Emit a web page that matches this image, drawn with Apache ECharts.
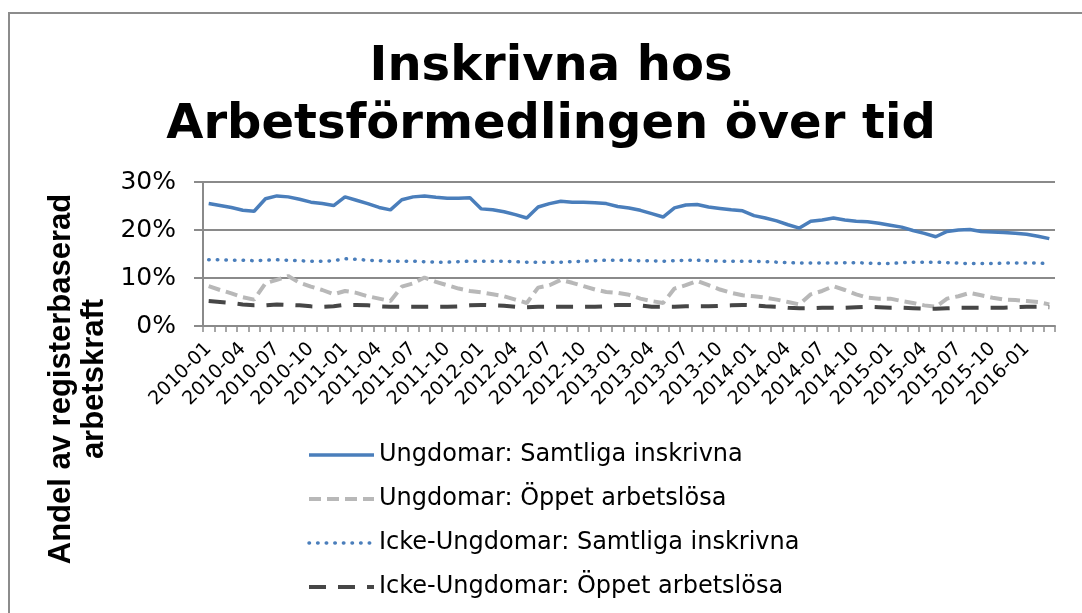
<!DOCTYPE html>
<html>
<head>
<meta charset="utf-8">
<script src="https://cdn.jsdelivr.net/npm/echarts@6/dist/echarts.min.js"></script>
<style>
  html, body { margin: 0; padding: 0; background: #fff; }
  #main { width: 1082px; height: 613px; }
</style>
</head>
<body>
<div id="main"></div>
<script>
// month categories 2010-01 .. 2016-03
var months = [
    '2010-01','2010-02','2010-03','2010-04','2010-05','2010-06','2010-07','2010-08','2010-09','2010-10','2010-11','2010-12',
    '2011-01','2011-02','2011-03','2011-04','2011-05','2011-06','2011-07','2011-08','2011-09','2011-10','2011-11','2011-12',
    '2012-01','2012-02','2012-03','2012-04','2012-05','2012-06','2012-07','2012-08','2012-09','2012-10','2012-11','2012-12',
    '2013-01','2013-02','2013-03','2013-04','2013-05','2013-06','2013-07','2013-08','2013-09','2013-10','2013-11','2013-12',
    '2014-01','2014-02','2014-03','2014-04','2014-05','2014-06','2014-07','2014-08','2014-09','2014-10','2014-11','2014-12',
    '2015-01','2015-02','2015-03','2015-04','2015-05','2015-06','2015-07','2015-08','2015-09','2015-10','2015-11','2015-12',
    '2016-01','2016-02','2016-03'
];

var seriesNames = [
    'Ungdomar: Samtliga inskrivna',
    'Ungdomar: Öppet arbetslösa',
    'Icke-Ungdomar: Samtliga inskrivna',
    'Icke-Ungdomar: Öppet arbetslösa'
];

// percent of registered labour force
var ungdomSamtliga = [
    25.5, 25.1, 24.7, 24.1, 23.9, 26.5, 27.1, 26.9, 26.4, 25.8, 25.5, 25.1,
    26.9, 26.2, 25.5, 24.7, 24.2, 26.3, 26.9, 27.1, 26.8, 26.6, 26.6, 26.7,
    24.4, 24.2, 23.8, 23.2, 22.5, 24.8, 25.5, 26.0, 25.8, 25.8, 25.7, 25.5,
    24.9, 24.6, 24.1, 23.4, 22.7, 24.6, 25.2, 25.3, 24.8, 24.5, 24.2, 24.0,
    23.0, 22.5, 21.9, 21.1, 20.4, 21.8, 22.1, 22.5, 22.1, 21.8, 21.7, 21.4,
    21.0, 20.6, 19.9, 19.3, 18.6, 19.7, 20.0, 20.1, 19.7, 19.6, 19.5, 19.3,
    19.1, 18.7, 18.2
];
var ungdomOppet = [
    8.3, 7.5, 6.8, 6.0, 5.5, 8.9, 9.6, 10.4, 9.0, 8.2, 7.5, 6.6,
    7.3, 6.9, 6.2, 5.7, 5.2, 8.2, 8.9, 10.1, 9.2, 8.5, 7.8, 7.3,
    7.0, 6.6, 6.2, 5.5, 4.8, 8.0, 8.5, 9.6, 9.0, 8.3, 7.6, 7.1,
    6.9, 6.5, 5.7, 5.2, 4.8, 7.8, 8.5, 9.4, 8.5, 7.6, 6.9, 6.4,
    6.2, 5.9, 5.5, 5.0, 4.5, 6.6, 7.3, 8.3, 7.5, 6.6, 5.9, 5.7,
    5.7, 5.2, 4.8, 4.3, 4.0, 5.7, 6.2, 6.9, 6.4, 5.9, 5.5, 5.4,
    5.2, 5.0, 4.5
];
var ickeSamtliga = [
    13.8, 13.8, 13.7, 13.7, 13.6, 13.7, 13.8, 13.7, 13.6, 13.5, 13.5, 13.6,
    14.0, 13.9, 13.7, 13.6, 13.5, 13.5, 13.5, 13.4, 13.3, 13.3, 13.4, 13.5,
    13.5, 13.5, 13.5, 13.4, 13.3, 13.3, 13.3, 13.3, 13.4, 13.5, 13.6, 13.7,
    13.7, 13.7, 13.6, 13.6, 13.5, 13.6, 13.7, 13.7, 13.6, 13.5, 13.5, 13.5,
    13.5, 13.4, 13.3, 13.2, 13.1, 13.1, 13.1, 13.1, 13.2, 13.2, 13.1, 13.0,
    13.0, 13.2, 13.3, 13.3, 13.3, 13.2, 13.1, 13.0, 13.0, 13.0, 13.1, 13.1,
    13.1, 13.1, 13.0
];
var ickeOppet = [
    5.2, 5.0, 4.8, 4.5, 4.3, 4.3, 4.5, 4.4, 4.3, 4.1, 4.0, 4.1,
    4.4, 4.4, 4.3, 4.1, 4.0, 4.0, 4.0, 4.0, 4.0, 4.0, 4.1, 4.3,
    4.4, 4.3, 4.2, 4.0, 3.9, 4.0, 4.0, 4.0, 4.0, 4.0, 4.0, 4.1,
    4.4, 4.4, 4.3, 4.0, 4.0, 4.0, 4.1, 4.1, 4.1, 4.2, 4.3, 4.4,
    4.3, 4.1, 4.0, 3.8, 3.7, 3.7, 3.8, 3.8, 3.8, 3.9, 4.0, 3.9,
    3.8, 3.8, 3.7, 3.6, 3.6, 3.7, 3.8, 3.8, 3.8, 3.8, 3.8, 3.9,
    4.0, 4.0, 3.9
];

var chart = echarts.init(document.getElementById('main'));
var axisGray = '#8a8a8a';

var option = {
    animation: false,
    backgroundColor: '#fff',

    // chart border, title and y axis title
    graphic: [
        {
            type: 'rect',
            shape: { x: 9, y: 13, width: 1200, height: 700 },
            style: { fill: 'none', stroke: '#8c8c8c', lineWidth: 2 },
            silent: true
        },
        {
            type: 'text',
            x: 551, y: 97,
            style: {
                text: 'Inskrivna hos\nArbetsförmedlingen över tid',
                font: 'bold 48px "DejaVu Sans"',
                lineHeight: 58,
                fill: '#000',
                align: 'center',
                verticalAlign: 'middle'
            }
        },
        {
            type: 'text',
            x: 78, y: 379,
            rotation: Math.PI / 2,
            style: {
                text: 'Andel av registerbaserad\narbetskraft',
                font: 'bold 31px "Liberation Sans"',
                lineHeight: 33,
                fill: '#000',
                align: 'center',
                verticalAlign: 'middle'
            }
        }
    ],

    legend: {
        orient: 'vertical',
        left: 302,
        top: 438,
        itemWidth: 65,
        itemHeight: 24,
        itemGap: 20,
        data: seriesNames,
        itemStyle: { opacity: 0 },
        lineStyle: { width: 'inherit', type: 'inherit' },
        textStyle: {
            fontFamily: 'DejaVu Sans',
            fontSize: 24,
            color: '#000'
        }
    },

    grid: {
        left: 203,
        right: 27,
        top: 182,
        bottom: 287,
        containLabel: false
    },

    xAxis: {
        type: 'category',
        data: months,
        boundaryGap: true,
        axisLine: { lineStyle: { color: axisGray, width: 2 } },
        axisTick: { show: true, interval: 0, length: 6, lineStyle: { color: axisGray, width: 1.5 } },
        axisLabel: {
            interval: 2,
            rotate: 45,
            margin: 20,
            fontFamily: 'DejaVu Sans',
            fontSize: 19,
            color: '#000'
        },
        splitLine: { show: false }
    },

    yAxis: {
        type: 'value',
        min: 0,
        max: 30,
        interval: 10,
        axisLine: { show: true, lineStyle: { color: axisGray, width: 2 } },
        axisTick: { show: true, length: 9, lineStyle: { color: axisGray, width: 2 } },
        axisLabel: {
            formatter: '{value}%',
            margin: 27,
            fontFamily: 'DejaVu Sans',
            fontSize: 25,
            color: '#000'
        },
        splitLine: { show: true, lineStyle: { color: axisGray, width: 2 } }
    },

    series: [
        {
            name: seriesNames[0],
            type: 'line',
            data: ungdomSamtliga,
            symbol: 'none',
            lineStyle: { color: '#4a7ebb', width: 3.5 },
            itemStyle: { color: '#4a7ebb' },
            z: 4
        },
        {
            name: seriesNames[1],
            type: 'line',
            data: ungdomOppet,
            symbol: 'none',
            lineStyle: { color: '#b8b8b8', width: 4, type: [12, 6] },
            itemStyle: { color: '#b8b8b8' },
            z: 3
        },
        {
            name: seriesNames[2],
            type: 'line',
            data: ickeSamtliga,
            symbol: 'none',
            lineStyle: { color: '#4a7ebb', width: 3.5, type: [0.5, 8.1], cap: 'round' },
            itemStyle: { color: '#4a7ebb' },
            z: 3
        },
        {
            name: seriesNames[3],
            type: 'line',
            data: ickeOppet,
            symbol: 'none',
            lineStyle: { color: '#464646', width: 4, type: [17, 12] },
            itemStyle: { color: '#464646' },
            z: 3
        }
    ]
};

chart.setOption(option);
</script>
</body>
</html>
